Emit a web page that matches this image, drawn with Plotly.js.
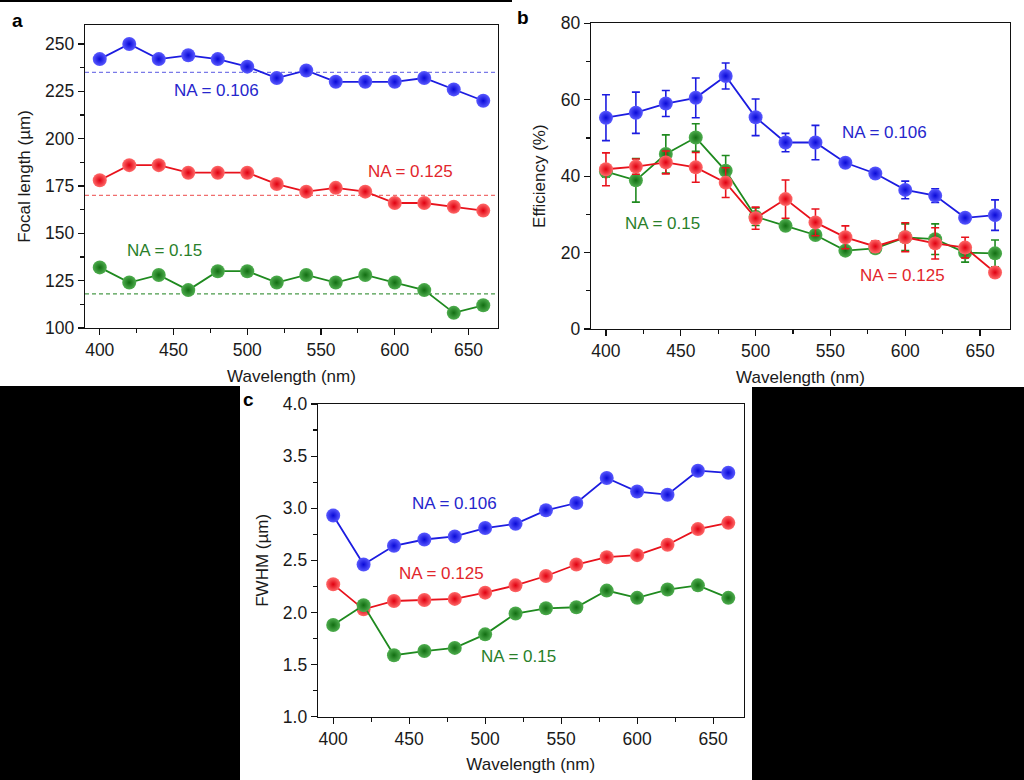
<!DOCTYPE html>
<html>
<head>
<meta charset="utf-8">
<script src="https://cdn.plot.ly/plotly-3.0.1.min.js"></script>
<style>html,body{margin:0;padding:0;background:#fff;}#chart{width:1024px;height:780px;}</style>
</head>
<body>
<div id="chart"></div>
<script>
// ---------- data ----------
const wavelength = [400,420,440,460,480,500,520,540,560,580,600,620,640,660];
const seriesNames = ['NA = 0.106','NA = 0.125','NA = 0.15'];

// panel a: focal length (µm)
const focalNA106 = [242,250,242,244,242,238,232,236,230,230,230,232,226,220];
const focalNA125 = [178,186,186,182,182,182,176,172,174,172,166,166,164,162];
const focalNA15  = [132,124,128,120,130,130,124,128,124,128,124,120,108,112];
const focalDesign = [235,170,118];

// panel b: efficiency (%) with error bars
const effNA106 = [55.3,56.6,59.0,60.5,66.2,55.4,48.8,48.8,43.5,40.7,36.4,34.9,29.1,29.8];
const effErr106 = [6.0,5.4,3.4,5.2,3.4,4.8,2.4,4.5,1.0,1.0,2.3,1.8,1.0,4.0];
const effNA125 = [41.8,42.5,43.6,42.3,38.3,29.0,34.0,27.9,24.0,21.6,24.0,22.4,21.3,14.8];
const effErr125 = [4.3,2.0,3.0,3.9,3.9,2.9,5.0,3.5,3.0,1.5,3.8,4.1,2.7,1.0];
const effNA15  = [41.2,38.9,45.8,50.1,41.4,29.4,27.0,24.6,20.5,21.1,24.0,23.5,20.0,19.8];
const effErr15 = [1.5,5.7,5.0,3.6,4.0,2.3,1.0,1.0,1.0,1.0,3.5,4.0,2.5,3.5];

// panel c: FWHM (µm)
const fwhmNA106 = [2.93,2.46,2.64,2.70,2.73,2.81,2.85,2.98,3.05,3.29,3.16,3.13,3.36,3.34];
const fwhmNA125 = [2.27,2.03,2.11,2.12,2.13,2.19,2.26,2.35,2.46,2.53,2.55,2.65,2.80,2.86];
const fwhmNA15  = [1.88,2.07,1.59,1.63,1.66,1.79,1.99,2.04,2.05,2.21,2.14,2.22,2.26,2.14];

// ---------- styles ----------
const FONT = 'Liberation Sans, Arial, Helvetica, sans-serif';
const lineCol = {b:'#1c1ce0', r:'#e8121c', g:'#1f8a1f'};
const centerCol = {b:'#5a5aff', r:'#ff6a6a', g:'#4fae4f'};
const edgeCol = {b:'#0a0ad8', r:'#e00010', g:'#126e12'};
const textCol = {b:'#2626cc', r:'#e2262c', g:'#2a7f2a'};
const dashCol = ['rgb(122,122,232)', 'rgb(240,110,110)', 'rgb(74,154,74)'];

function series(y, key, xa, ya, err) {
  const t = {
    type:'scatter', mode:'lines+markers', x: wavelength, y: y,
    xaxis: xa, yaxis: ya, showlegend:false, hoverinfo:'skip',
    line:{color: lineCol[key], width:1.8},
    marker:{size:14, color: centerCol[key], line:{width:0},
            gradient:{type:'radial', color: edgeCol[key]}}
  };
  if (err) t.error_y = {type:'data', array: err, visible:true, color: lineCol[key], thickness:1.6, width:4};
  return t;
}

const traces = [
  series(focalNA106,'b','x','y'),
  series(focalNA125,'r','x','y'),
  series(focalNA15,'g','x','y'),
  series(effNA106,'b','x2','y2',effErr106),
  series(effNA15,'g','x2','y2',effErr15),
  series(effNA125,'r','x2','y2',effErr125),
  series(fwhmNA106,'b','x3','y3'),
  series(fwhmNA125,'r','x3','y3'),
  series(fwhmNA15,'g','x3','y3')
];

function xAxis(domain, anchor) {
  return {
    domain: domain, anchor: anchor, range:[390,670], tickvals:[400,450,500,550,600,650],
    ticks:'outside', ticklen:6, tickwidth:1.2, tickcolor:'#111',
    minor:{tickvals:[425,475,525,575,625], ticks:'outside', ticklen:3.5, tickwidth:1.2, tickcolor:'#111'},
    showline:true, linecolor:'#111', linewidth:1.3, mirror:true, showgrid:false, zeroline:false,
    tickfont:{family:FONT, size:17.5, color:'#1a1a1a'},
    title:{text:'Wavelength (nm)', font:{family:FONT, size:17, color:'#1a1a1a'}, standoff:10}
  };
}
function yAxis(domain, anchor, range, dtick, minorDtick, title, fmt) {
  return {
    domain: domain, anchor: anchor, range: range, tick0: range[0], dtick: dtick,
    ticks:'outside', ticklen:6, tickwidth:1.2, tickcolor:'#111', tickformat: fmt || '',
    minor:{dtick:minorDtick, tick0: range[0], ticks:'outside', ticklen:3.5, tickwidth:1.2, tickcolor:'#111'},
    showline:true, linecolor:'#111', linewidth:1.3, mirror:true, showgrid:false, zeroline:false,
    tickfont:{family:FONT, size:17.5, color:'#1a1a1a'},
    title:{text:title, font:{family:FONT, size:17, color:'#1a1a1a'}, standoff:10}
  };
}

const W = 1024, H = 780;
const px = v => v / W;
const py = v => (H - v) / H;

const shapes = [];
focalDesign.forEach((v,i) => shapes.push({
  type:'line', xref:'x domain', yref:'y', x0:0, x1:1, y0:v, y1:v,
  line:{color: dashCol[i], width:1.2, dash:'4px,3px'}, layer:'below'
}));
// black page masks of the original figure
shapes.push({type:'rect', xref:'paper', yref:'paper', x0:0, x1:px(240), y0:0, y1:py(386), fillcolor:'#000', line:{width:0}});
shapes.push({type:'rect', xref:'paper', yref:'paper', x0:px(752), x1:1, y0:0, y1:py(387), fillcolor:'#000', line:{width:0}});
shapes.push({type:'rect', xref:'paper', yref:'paper', x0:0, x1:px(512), y0:py(2), y1:1, fillcolor:'#000', line:{width:0}});

function lab(text, x, y, xr, yr, key) {
  return {text:text, x:x, y:y, xref:xr, yref:yr, showarrow:false,
          font:{family:FONT, size:17, color:textCol[key]}, xanchor:'center', yanchor:'middle'};
}
function panel(text, x, y) {
  return {text:'<b>'+text+'</b>', x:px(x), y:py(y), xref:'paper', yref:'paper', showarrow:false,
          font:{family:FONT, size:19, color:'#000'}, xanchor:'center', yanchor:'middle'};
}

const annotations = [
  lab(seriesNames[0], 479, 225.3, 'x','y','b'),
  lab(seriesNames[1], 611, 182.4, 'x','y','r'),
  lab(seriesNames[2], 444, 141, 'x','y','g'),
  lab(seriesNames[0], 586, 51.5, 'x2','y2','b'),
  lab(seriesNames[2], 437.5, 27.7, 'x2','y2','g'),
  lab(seriesNames[1], 598, 13.9, 'x2','y2','r'),
  lab(seriesNames[0], 479.5, 3.045, 'x3','y3','b'),
  lab(seriesNames[1], 471, 2.378, 'x3','y3','r'),
  lab(seriesNames[2], 522, 1.577, 'x3','y3','g'),
  panel('a', 17, 20), panel('b', 523, 17), panel('c', 248, 400)
];

const layout = {
  width:W, height:H, margin:{l:0,r:0,t:0,b:0}, paper_bgcolor:'#fff', plot_bgcolor:'#fff',
  showlegend:false, font:{family:FONT},
  xaxis: xAxis([px(85), px(498)], 'y'),
  yaxis: yAxis([py(328), py(25)], 'x', [100,260], 25, 12.5, 'Focal length (µm)'),
  xaxis2: xAxis([px(591), px(1010)], 'y2'),
  yaxis2: yAxis([py(329), py(23.3)], 'x2', [0,80], 20, 10, 'Efficiency (%)'),
  xaxis3: xAxis([px(318), px(743.5)], 'y3'),
  yaxis3: yAxis([py(716.7), py(404)], 'x3', [1,4], 0.5, 0.25, 'FWHM (µm)', '.1f'),
  shapes: shapes, annotations: annotations
};

Plotly.newPlot('chart', traces, layout, {staticPlot:true, displayModeBar:false});
</script>
</body>
</html>
